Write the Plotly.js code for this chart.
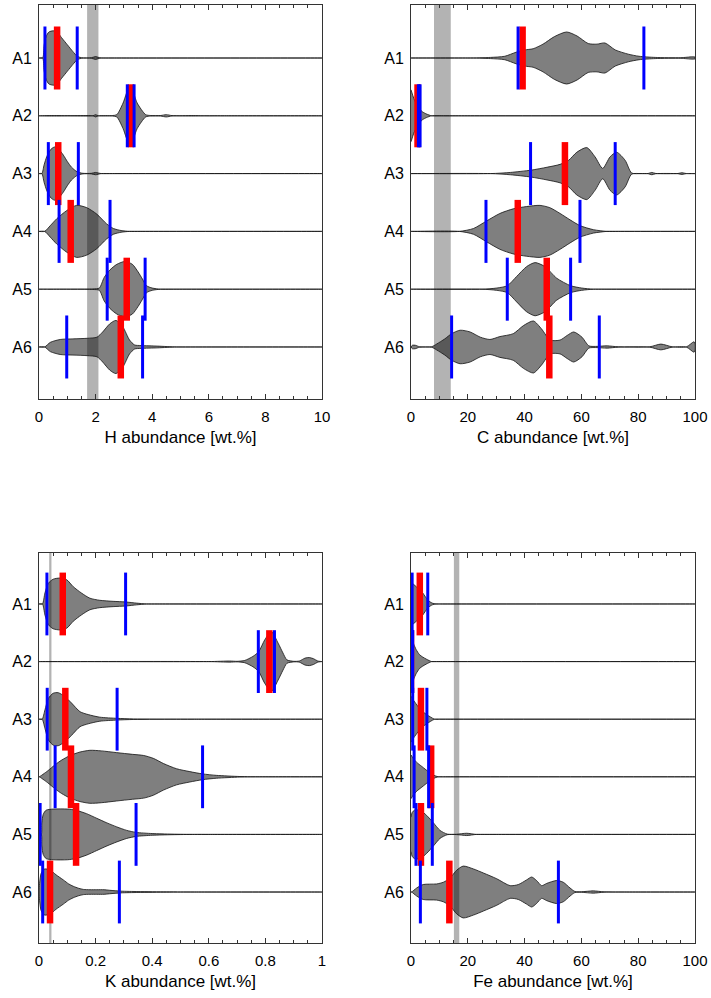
<!DOCTYPE html>
<html>
<head>
<meta charset="utf-8">
<script src="https://cdn.plot.ly/plotly-3.0.1.min.js"></script>
<style>html,body{margin:0;padding:0;background:#fff;}#chart{width:711px;height:998px;}</style>
</head>
<body>
<div id="chart"></div>
<script>
// ---------------- data ----------------
const categories = ['A1', 'A2', 'A3', 'A4', 'A5', 'A6'];

// H abundance [wt.%]: density profiles (x value, half-width in category units)
const H_A1_x = [0, 0.13, 0.18, 0.25, 0.35, 0.5, 0.62, 0.8, 1.0, 1.2, 1.35, 1.5, 1.85, 2.0, 2.15, 2.4, 3, 10];
const H_A1_w = [0, 0, 0.22, 0.37, 0.45, 0.47, 0.46, 0.35, 0.23, 0.11, 0.03, 0.005, 0.005, 0.025, 0.003, 0, 0, 0];
const H_A2_x = [0, 0.5, 1.9, 2.0, 2.1, 2.6, 2.75, 2.97, 3.22, 3.47, 3.77, 3.95, 4.3, 4.5, 4.7, 5.45, 5.8, 6.5, 10];
const H_A2_w = [0, 0.005, 0, 0.02, 0, 0.005, 0.02, 0.22, 0.53, 0.22, 0.02, 0.005, 0.005, 0.02, 0.003, 0.004, 0, 0, 0];
const H_A3_x = [0, 0.1, 0.18, 0.28, 0.42, 0.55, 0.7, 0.86, 1.0, 1.15, 1.35, 1.55, 1.85, 2.0, 2.2, 2.6, 10];
const H_A3_w = [0, 0, 0.15, 0.3, 0.42, 0.46, 0.42, 0.32, 0.21, 0.11, 0.03, 0.005, 0.005, 0.02, 0, 0, 0];
const H_A4_x = [0, 0.2, 0.4, 0.63, 0.98, 1.33, 1.69, 2.04, 2.39, 2.63, 2.9, 3.2, 3.6, 10];
const H_A4_w = [0, 0, 0.1, 0.22, 0.36, 0.45, 0.41, 0.3, 0.13, 0.05, 0.015, 0, 0, 0];
const H_A5_x = [0, 0.3, 1.9, 2.13, 2.3, 2.5, 2.75, 3.04, 3.3, 3.5, 3.65, 3.8, 4.0, 4.3, 4.7, 10];
const H_A5_w = [0, 0, 0.005, 0.02, 0.2, 0.33, 0.43, 0.48, 0.43, 0.3, 0.18, 0.06, 0.02, 0, 0, 0];
const H_A6_x = [0, 0.2, 0.4, 0.75, 1.2, 1.7, 2.05, 2.25, 2.5, 2.72, 2.96, 3.2, 3.38, 3.6, 4.2, 4.85, 5.3, 10];
const H_A6_w = [0, 0, 0.08, 0.13, 0.14, 0.15, 0.17, 0.26, 0.4, 0.46, 0.35, 0.12, 0.035, 0.025, 0.015, 0, 0, 0];
const H_low = [0.21, 3.12, 0.33, 0.71, 2.41, 0.98];
const H_med = [0.64, 3.25, 0.68, 1.12, 3.1, 2.89];
const H_high = [1.35, 3.36, 1.39, 2.51, 3.75, 3.66];
const H_ref = [1.7, 2.1];

// C abundance [wt.%]
const C_A1_x = [0, 20, 28, 33, 37, 40, 43, 46.5, 50.5, 54.8, 58.5, 62.4, 65.5, 68.3, 71.9, 76.6, 80.3, 86, 95, 99, 100];
const C_A1_w = [0, 0, 0.01, 0.03, 0.1, 0.14, 0.16, 0.24, 0.37, 0.45, 0.38, 0.25, 0.24, 0.26, 0.14, 0.065, 0.03, 0.01, 0.005, 0.02, 0.015];
const C_A2_x = [0, 1, 2, 3, 4, 5.5, 7.3, 12, 20, 100];
const C_A2_w = [0.45, 0.3, 0.2, 0.12, 0.07, 0.03, 0, 0, 0, 0];
const C_A3_x = [0, 28, 35, 42.3, 47.9, 52.5, 55.5, 58.4, 61.9, 64.8, 67.5, 70.1, 72.4, 75.4, 77.7, 81, 83.5, 84.8, 86.2, 94, 95.4, 97, 100];
const C_A3_w = [0, 0, 0.02, 0.06, 0.11, 0.16, 0.23, 0.37, 0.45, 0.29, 0.09, 0.29, 0.37, 0.23, 0.01, 0, 0.002, 0.02, 0.002, 0.002, 0.015, 0, 0];
const C_A4_x = [0, 17, 22, 26.6, 31.3, 36, 40.7, 45.4, 48.9, 52.5, 56, 59.5, 64.2, 69, 73, 100];
const C_A4_w = [0, 0, 0.05, 0.18, 0.31, 0.39, 0.43, 0.45, 0.41, 0.31, 0.2, 0.1, 0.03, 0, 0, 0];
const C_A5_x = [0, 25, 30.2, 33.9, 37.2, 40.7, 43.7, 47.2, 51.3, 56.2, 60.1, 64.2, 68, 100];
const C_A5_w = [0, 0, 0.02, 0.06, 0.22, 0.39, 0.46, 0.39, 0.19, 0.06, 0.02, 0, 0, 0];
const C_A6_x = [0, 0.5, 1.5, 3, 7.3, 9, 11.9, 14.3, 17.3, 20.8, 24.4, 27.8, 31.3, 36, 39.6, 43.1, 46, 49, 52.5, 55, 57.3, 60.2, 62.6, 65, 69.1, 73, 84, 88, 92, 97, 99.6, 100];
const C_A6_w = [0, 0.03, 0.03, 0.005, 0.005, 0.05, 0.14, 0.23, 0.29, 0.26, 0.17, 0.13, 0.18, 0.23, 0.37, 0.45, 0.31, 0.12, 0.12, 0.2, 0.26, 0.17, 0.02, 0.01, 0.02, 0.003, 0.003, 0.05, 0.003, 0.003, 0.09, 0.07];
const C_low = [37.7, 2.6, 42.1, 26.4, 33.9, 14.3];
const C_med = [39.3, 2.3, 54.2, 37.6, 47.8, 48.7];
const C_high = [82.0, 3.2, 71.9, 59.5, 56.2, 66.3];
const C_ref = [8.1, 14.0];

// K abundance [wt.%]
const K_A1_x = [0, 0.012, 0.021, 0.033, 0.05, 0.074, 0.098, 0.121, 0.15, 0.18, 0.215, 0.262, 0.306, 0.345, 0.38, 0.42, 1];
const K_A1_w = [0, 0, 0.19, 0.36, 0.43, 0.45, 0.42, 0.3, 0.19, 0.1, 0.064, 0.046, 0.035, 0.015, 0, 0, 0];
const K_A2_x = [0, 0.6, 0.674, 0.7, 0.727, 0.756, 0.776, 0.798, 0.821, 0.845, 0.862, 0.876, 0.9, 0.92, 0.94, 0.955, 0.97, 0.985, 1];
const K_A2_w = [0, 0, 0.01, 0.005, 0.02, 0.09, 0.17, 0.38, 0.52, 0.32, 0.15, 0.03, 0.005, 0.01, 0.06, 0.07, 0.05, 0.01, 0];
const K_A3_x = [0, 0.011, 0.021, 0.033, 0.05, 0.068, 0.092, 0.115, 0.145, 0.174, 0.215, 0.276, 0.333, 0.5, 0.55, 1];
const K_A3_w = [0, 0, 0.16, 0.36, 0.45, 0.46, 0.39, 0.28, 0.13, 0.08, 0.035, 0.015, 0.005, 0, 0, 0];
const K_A4_x = [0, 0.001, 0.03, 0.057, 0.08, 0.11, 0.145, 0.18, 0.22, 0.274, 0.33, 0.37, 0.404, 0.44, 0.486, 0.533, 0.578, 0.627, 0.71, 0.78, 0.82, 1];
const K_A4_w = [0, 0, 0.1, 0.21, 0.29, 0.37, 0.43, 0.46, 0.45, 0.42, 0.39, 0.37, 0.32, 0.23, 0.14, 0.09, 0.05, 0.025, 0.005, 0, 0, 0];
const K_A5_x = [0, 0.008, 0.01, 0.015, 0.025, 0.05, 0.1, 0.13, 0.168, 0.204, 0.24, 0.275, 0.31, 0.343, 0.4, 0.47, 0.55, 0.6, 1];
const K_A5_w = [0, 0, 0.2, 0.35, 0.42, 0.44, 0.44, 0.42, 0.36, 0.28, 0.2, 0.13, 0.07, 0.035, 0.015, 0.005, 0, 0, 0];
const K_A6_x = [0, 0.002, 0.008, 0.02, 0.04, 0.06, 0.086, 0.105, 0.121, 0.14, 0.157, 0.18, 0.204, 0.23, 0.25, 0.29, 0.35, 0.45, 0.5, 0.55, 1];
const K_A6_w = [0, 0.15, 0.33, 0.4, 0.38, 0.3, 0.21, 0.14, 0.1, 0.065, 0.045, 0.04, 0.04, 0.04, 0.03, 0.015, 0.008, 0.003, 0, 0, 0];
const K_low = [0.028, 0.775, 0.029, 0.057, 0.004, 0.013];
const K_med = [0.084, 0.814, 0.093, 0.113, 0.131, 0.039];
const K_high = [0.306, 0.832, 0.276, 0.578, 0.343, 0.284];
const K_ref = [0.036, 0.044];

// Fe abundance [wt.%]
const Fe_A1_x = [0, 1.4, 2.5, 4, 5, 6.1, 7.5, 8.8, 10.5, 14, 100];
const Fe_A1_w = [0.38, 0.32, 0.27, 0.2, 0.13, 0.06, 0.015, 0, 0, 0, 0];
const Fe_A2_x = [0, 0.5, 1, 1.8, 3, 4.1, 5.5, 7.3, 9, 12, 100];
const Fe_A2_w = [0.48, 0.38, 0.3, 0.21, 0.12, 0.08, 0.04, 0, 0, 0, 0];
const Fe_A3_x = [0, 1, 2.5, 4.2, 5.5, 6.8, 8.3, 10, 13, 100];
const Fe_A3_w = [0.4, 0.32, 0.22, 0.13, 0.08, 0.04, 0, 0, 0, 0];
const Fe_A4_x = [0, 0.8, 2, 3.8, 6.1, 7.9, 9.6, 11.5, 15, 100];
const Fe_A4_w = [0.38, 0.32, 0.25, 0.18, 0.09, 0.03, 0, 0, 0, 0];
const Fe_A5_x = [0, 0.4, 1.2, 3.2, 5.5, 7.9, 10.2, 12.8, 16, 19.6, 23, 26, 30, 100];
const Fe_A5_w = [0.3, 0.38, 0.42, 0.42, 0.33, 0.2, 0.07, 0.005, 0.003, 0.02, 0, 0, 0, 0];
const Fe_A6_x = [0, 0.2, 2, 4.3, 9, 11.4, 13.7, 16.1, 18.4, 22, 25.5, 30.2, 34.9, 37.8, 40.7, 42.5, 44.2, 46, 47.8, 51.3, 53.6, 56, 57.7, 60, 64.2, 68, 76, 80, 100];
const Fe_A6_w = [0, 0, 0.07, 0.13, 0.14, 0.17, 0.24, 0.38, 0.45, 0.4, 0.33, 0.23, 0.11, 0.13, 0.21, 0.26, 0.2, 0.11, 0.15, 0.2, 0.17, 0.07, 0.01, 0.005, 0.02, 0.003, 0, 0, 0];
const Fe_low = [0.4, 0.45, 0.6, 1.1, 1.76, 3.3];
const Fe_med = [3.1, 0.0, 3.5, 7.1, 3.5, 13.5];
const Fe_high = [5.9, 0.6, 5.6, 6.2, 7.5, 51.9];
const Fe_ref = [15.1, 17.0];

const xTitles = ['H abundance [wt.%]', 'C abundance [wt.%]', 'K abundance [wt.%]', 'Fe abundance [wt.%]'];

// ---------------- build ----------------
const panels = [
  {xs: [H_A1_x, H_A2_x, H_A3_x, H_A4_x, H_A5_x, H_A6_x], ws: [H_A1_w, H_A2_w, H_A3_w, H_A4_w, H_A5_w, H_A6_w], low: H_low, med: H_med, high: H_high, ref: H_ref, xa: 'x', ya: 'y'},
  {xs: [C_A1_x, C_A2_x, C_A3_x, C_A4_x, C_A5_x, C_A6_x], ws: [C_A1_w, C_A2_w, C_A3_w, C_A4_w, C_A5_w, C_A6_w], low: C_low, med: C_med, high: C_high, ref: C_ref, xa: 'x2', ya: 'y2'},
  {xs: [K_A1_x, K_A2_x, K_A3_x, K_A4_x, K_A5_x, K_A6_x], ws: [K_A1_w, K_A2_w, K_A3_w, K_A4_w, K_A5_w, K_A6_w], low: K_low, med: K_med, high: K_high, ref: K_ref, xa: 'x3', ya: 'y3'},
  {xs: [Fe_A1_x, Fe_A2_x, Fe_A3_x, Fe_A4_x, Fe_A5_x, Fe_A6_x], ws: [Fe_A1_w, Fe_A2_w, Fe_A3_w, Fe_A4_w, Fe_A5_w, Fe_A6_w], low: Fe_low, med: Fe_med, high: Fe_high, ref: Fe_ref, xa: 'x4', ya: 'y4'}
];

const HALF = 0.545;
const traces = [];
const shapes = [];

panels.forEach(p => {
  // reference band
  shapes.push({type: 'rect', layer: 'below', xref: p.xa, yref: p.ya + ' domain', x0: p.ref[0], x1: p.ref[1], y0: 0, y1: 1,
    fillcolor: '#b3b3b3', line: {width: 0}});
  // violins
  categories.forEach((c, i) => {
    const pos = i + 1;
    const xs = p.xs[i], ws = p.ws[i];
    const X = xs.concat(xs.slice().reverse());
    const Y = xs.map((_, k) => pos - ws[k]).concat(xs.map((_, k) => pos + ws[k]).reverse());
    traces.push({type: 'scatter', mode: 'lines', x: X, y: Y, xaxis: p.xa, yaxis: p.ya,
      fill: 'toself', fillcolor: 'rgba(0,0,0,0.5)',
      line: {color: '#111', width: 0.8, shape: 'spline', smoothing: 0.7},
      hoverinfo: 'skip', showlegend: false});
  });
  // median (red) then percentiles (blue)
  const seg = vals => {
    const x = [], y = [];
    vals.forEach((v, i) => { x.push(v, v, null); y.push(i + 1 - HALF, i + 1 + HALF, null); });
    return {x, y};
  };
  const r = seg(p.med);
  traces.push({type: 'scatter', mode: 'lines', x: r.x, y: r.y, xaxis: p.xa, yaxis: p.ya,
    line: {color: '#ff0000', width: 6.5}, hoverinfo: 'skip', showlegend: false});
  const b = seg(p.low);
  const b2 = seg(p.high);
  traces.push({type: 'scatter', mode: 'lines', x: b.x.concat(b2.x), y: b.y.concat(b2.y), xaxis: p.xa, yaxis: p.ya,
    line: {color: '#0000ff', width: 3}, hoverinfo: 'skip', showlegend: false});
});

const FONT = '"Liberation Sans", Arial, Helvetica, sans-serif';
const W = 711, Hh = 998;
const leftDom = [39 / W, 322 / W];
const rightDom = [411 / W, 695 / W];
const topDom = [1 - 399 / Hh, 1 - 5 / Hh];
const botDom = [1 - 943 / Hh, 1 - 553 / Hh];

function xAxis(dom, anchor, range, dtick, minor, title) {
  return {domain: dom, anchor: anchor, range: range, autorange: false, dtick: dtick, tick0: 0,
    ticks: 'inside', ticklen: 5, tickwidth: 1, tickcolor: '#333',
    minor: {dtick: minor, tick0: 0, ticks: 'inside', ticklen: 3, tickwidth: 1, tickcolor: '#333'},
    showline: true, linecolor: '#333', linewidth: 1, mirror: 'ticks', showgrid: false, zeroline: false,
    tickfont: {family: FONT, size: 15, color: '#000'}, ticklabelstandoff: 4,
    title: {text: title, font: {family: FONT, size: 17, color: '#000'}, standoff: 7}};
}
function yAxis(dom, anchor, range) {
  return {domain: dom, anchor: anchor, range: range, autorange: false,
    tickvals: [1, 2, 3, 4, 5, 6], ticktext: categories, ticks: '',
    showline: true, linecolor: '#333', linewidth: 1, mirror: true, showgrid: false, zeroline: false,
    tickfont: {family: FONT, size: 16, color: '#000'}, ticklabelstandoff: 3};
}

const layout = {
  width: W, height: Hh, margin: {l: 0, r: 0, t: 0, b: 0},
  paper_bgcolor: '#fff', plot_bgcolor: '#fff', showlegend: false,
  xaxis: xAxis(leftDom, 'y', [0, 10], 2, 0.5, xTitles[0]),
  yaxis: yAxis(topDom, 'x', [6.9, 0.083]),
  xaxis2: xAxis(rightDom, 'y2', [0, 100], 20, 5, xTitles[1]),
  yaxis2: yAxis(topDom, 'x2', [6.9, 0.083]),
  xaxis3: xAxis(leftDom, 'y3', [0, 1], 0.2, 0.05, xTitles[2]),
  yaxis3: yAxis(botDom, 'x3', [6.885, 0.115]),
  xaxis4: xAxis(rightDom, 'y4', [0, 100], 20, 5, xTitles[3]),
  yaxis4: yAxis(botDom, 'x4', [6.885, 0.115]),
  shapes: shapes
};

Plotly.newPlot('chart', traces, layout, {staticPlot: true, displayModeBar: false});
</script>
</body>
</html>
